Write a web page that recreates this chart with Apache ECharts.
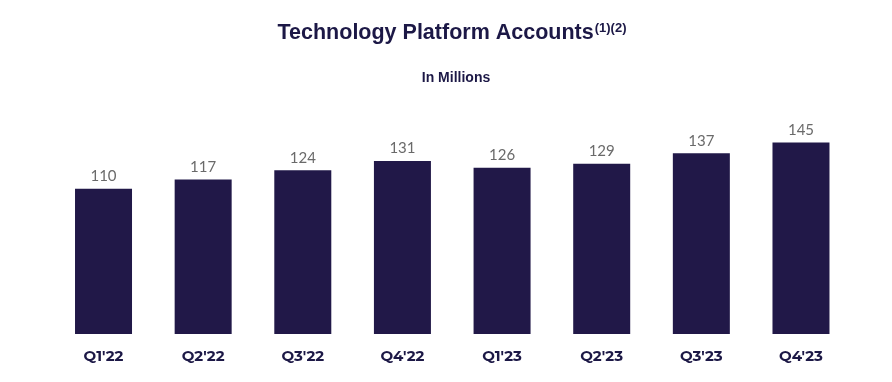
<!DOCTYPE html>
<html><head><meta charset="utf-8">
<script src="https://cdn.jsdelivr.net/npm/echarts@6/dist/echarts.min.js"></script>
<style>html,body{margin:0;padding:0;background:#fff}#c{width:892px;height:382px}</style>
</head><body><div id="c"></div>
<script>
const categories = ["Q1'22","Q2'22","Q3'22","Q4'22","Q1'23","Q2'23","Q3'23","Q4'23"];
const accounts = [110,117,124,131,126,129,137,145];
const titleText = "Technology Platform Accounts";
const titleSup = "(1)(2)";
const subtitleText = "In Millions";

const chart = echarts.init(document.getElementById('c'));
chart.setOption({
  backgroundColor: '#ffffff',
  animation: false,
  title: [{
    text: '{m|' + titleText + '}{s|' + titleSup + '}',
    left: 447, top: 17, textAlign: 'center',
    textStyle: {
      rich: {
        m: {fontFamily: 'Liberation Sans', fontWeight: 'bold', fontSize: 21.5, color: '#1c1846'},
        s: {fontFamily: 'Liberation Sans', fontWeight: 'bold', fontSize: 13, color: '#1c1846', verticalAlign: 'top', padding: [0,0,10,1]}
      }
    }
  },{
    text: subtitleText,
    left: 451, top: 66, textAlign: 'center',
    textStyle: {fontFamily: 'Liberation Sans', fontWeight: 'bold', fontSize: 14, color: '#1c1846'}
  }],
  grid: {left: 53.7, right: 41.2, top: 70, bottom: 48, containLabel: false},
  xAxis: {
    type: 'category', data: categories,
    axisLine: {show: false}, axisTick: {show: false},
    axisLabel: {margin: 15, fontFamily: 'Montserrat, Inter, Lato, sans-serif', fontWeight: 'bold', fontSize: 15, color: '#1c1846'}
  },
  yAxis: {type: 'value', min: 0, max: 200, show: false, splitLine: {show: false}},
  series: [{
    type: 'bar', data: accounts, barWidth: 57,
    itemStyle: {color: '#211848'},
    label: {show: true, position: 'top', distance: 5, fontFamily: 'Lato, Inter, sans-serif', fontSize: 15, color: '#6a6a6a'}
  }]
});
</script></body></html>
